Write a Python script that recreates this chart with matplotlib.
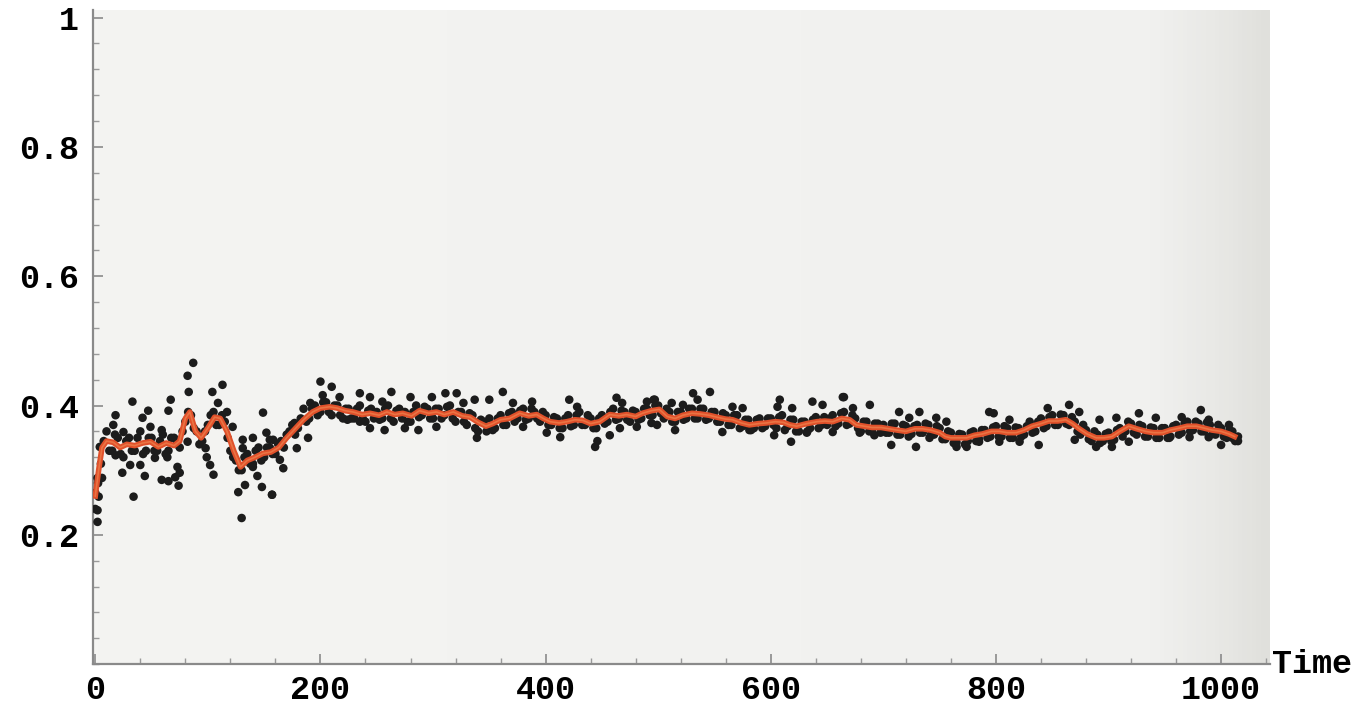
import numpy as np
import matplotlib
matplotlib.use("Agg")
import matplotlib.pyplot as plt
from matplotlib.ticker import MultipleLocator
from matplotlib.colors import LinearSegmentedColormap

# ---- data ----
# smoothed (red) curve
line_t = [0, 3, 6, 10, 16, 22, 28, 35, 42, 49, 56, 63, 70, 75, 80, 84, 89, 94, 100, 106,
          111, 117, 123, 129, 135, 142, 149, 156, 163, 170, 178, 185, 193, 200, 208, 215,
          222, 229, 237, 244, 252, 259, 266, 273, 281, 288, 296, 303, 310, 318, 326, 333,
          340, 347, 353, 360, 368, 377, 385, 392, 398, 404, 412, 419, 426, 433, 440, 448,
          457, 465, 472, 480, 486, 494, 501, 508, 515, 522, 530, 537, 545, 552, 560, 566,
          574, 581, 589, 596, 604, 611, 617, 623, 632, 641, 648, 655, 663, 670, 676, 683,
          690, 698, 705, 712, 720, 728, 735, 742, 750, 755, 760, 767, 774, 781, 788, 796,
          803, 810, 818, 825, 832, 840, 847, 855, 862, 868, 874, 881, 889, 896, 903, 910,
          918, 925, 933, 940, 948, 955, 963, 970, 978, 985, 992, 1000, 1007, 1012]
line_v = [0.26, 0.30, 0.335, 0.345, 0.343, 0.335, 0.34, 0.338, 0.342, 0.344, 0.336, 0.342,
          0.338, 0.345, 0.38, 0.39, 0.36, 0.35, 0.365, 0.382, 0.38, 0.36, 0.33, 0.305, 0.315,
          0.32, 0.326, 0.328, 0.335, 0.35, 0.365, 0.378, 0.39, 0.396, 0.398, 0.396, 0.392,
          0.39, 0.386, 0.388, 0.385, 0.39, 0.386, 0.388, 0.384, 0.392, 0.388, 0.39, 0.386,
          0.39, 0.384, 0.382, 0.374, 0.368, 0.372, 0.378, 0.38, 0.388, 0.384, 0.386, 0.38,
          0.375, 0.373, 0.375, 0.378, 0.377, 0.372, 0.375, 0.386, 0.384, 0.386, 0.383, 0.388,
          0.392, 0.394, 0.383, 0.38, 0.385, 0.388, 0.387, 0.385, 0.382, 0.379, 0.378, 0.373,
          0.37, 0.372, 0.373, 0.375, 0.374, 0.37, 0.368, 0.372, 0.375, 0.376, 0.375, 0.38,
          0.378, 0.37, 0.368, 0.366, 0.366, 0.364, 0.362, 0.36, 0.364, 0.364, 0.362, 0.358,
          0.352, 0.35, 0.35, 0.35, 0.354, 0.356, 0.36, 0.36, 0.358, 0.358, 0.362, 0.368,
          0.372, 0.376, 0.376, 0.378, 0.372, 0.364, 0.356, 0.35, 0.35, 0.352, 0.36, 0.368,
          0.364, 0.36, 0.358, 0.358, 0.362, 0.365, 0.368, 0.368, 0.365, 0.362, 0.36, 0.356,
          0.352]

# dense band of dots, times 0, 5, 10, ... 1015
band_a_start, band_a_step = 0, 5
band_a_v = [0.24, 0.31, 0.36, 0.33, 0.35, 0.32, 0.35, 0.33, 0.36, 0.33,
            0.35, 0.33, 0.355, 0.33, 0.35, 0.335, 0.375, 0.385, 0.36, 0.345,
            0.37, 0.39, 0.37, 0.375, 0.33, 0.315, 0.30, 0.325, 0.31, 0.335,
            0.32, 0.335, 0.325, 0.345, 0.355, 0.37, 0.365, 0.395, 0.38, 0.40,
            0.39, 0.405, 0.385, 0.40, 0.38, 0.395, 0.38, 0.40, 0.375, 0.395,
            0.39, 0.38, 0.40, 0.375, 0.395, 0.39, 0.375, 0.40, 0.385, 0.395,
            0.38, 0.395, 0.385, 0.40, 0.375, 0.39, 0.37, 0.385, 0.36, 0.375,
            0.38, 0.365, 0.385, 0.37, 0.39, 0.38, 0.395, 0.38, 0.39, 0.375,
            0.385, 0.37, 0.38, 0.365, 0.385, 0.37, 0.39, 0.37, 0.38, 0.365,
            0.385, 0.375, 0.395, 0.38, 0.39, 0.375, 0.39, 0.38, 0.395, 0.385,
            0.40, 0.38, 0.39, 0.375, 0.39, 0.38, 0.395, 0.38, 0.395, 0.38,
            0.39, 0.375, 0.385, 0.37, 0.385, 0.368, 0.378, 0.365, 0.38, 0.368,
            0.38, 0.365, 0.385, 0.368, 0.378, 0.36, 0.375, 0.365, 0.382, 0.37,
            0.37, 0.385, 0.372, 0.39, 0.372, 0.38, 0.36, 0.375, 0.36, 0.372,
            0.37, 0.358, 0.372, 0.355, 0.368, 0.356, 0.37, 0.358, 0.37, 0.355,
            0.365, 0.348, 0.358, 0.343, 0.355, 0.345, 0.36, 0.348, 0.362, 0.352,
            0.368, 0.352, 0.365, 0.35, 0.365, 0.355, 0.37, 0.36, 0.38, 0.368,
            0.385, 0.37, 0.385, 0.37, 0.375, 0.355, 0.362, 0.345, 0.355, 0.345,
            0.358, 0.347, 0.365, 0.36, 0.372, 0.355, 0.368, 0.352, 0.365, 0.35,
            0.365, 0.352, 0.37, 0.358, 0.375, 0.362, 0.372, 0.36, 0.37, 0.355,
            0.365, 0.35, 0.36, 0.345]

# second band of dots, times 2.5, 7.5, ... 1012.5
band_b_start, band_b_step = 2.5, 5
band_b_v = [0.28, 0.345, 0.33, 0.355, 0.325, 0.345, 0.33, 0.35, 0.325, 0.35,
            0.33, 0.345, 0.325, 0.35, 0.34, 0.36, 0.39, 0.365, 0.34, 0.36,
            0.385, 0.37, 0.385, 0.35, 0.32, 0.30, 0.32, 0.31, 0.33, 0.315,
            0.335, 0.325, 0.34, 0.335, 0.36, 0.355, 0.38, 0.375, 0.395, 0.385,
            0.405, 0.39, 0.40, 0.385, 0.395, 0.38, 0.395, 0.38, 0.392, 0.38,
            0.378, 0.395, 0.38, 0.392, 0.38, 0.375, 0.39, 0.382, 0.398, 0.38,
            0.395, 0.38, 0.398, 0.38, 0.39, 0.375, 0.388, 0.365, 0.378, 0.36,
            0.365, 0.38, 0.37, 0.388, 0.375, 0.392, 0.378, 0.395, 0.38, 0.39,
            0.37, 0.382, 0.365, 0.38, 0.368, 0.385, 0.37, 0.385, 0.365, 0.38,
            0.372, 0.39, 0.378, 0.392, 0.378, 0.392, 0.378, 0.395, 0.385, 0.40,
            0.388, 0.395, 0.375, 0.39, 0.378, 0.395, 0.38, 0.395, 0.378, 0.39,
            0.375, 0.388, 0.37, 0.385, 0.365, 0.378, 0.362, 0.378, 0.365, 0.38,
            0.37, 0.382, 0.362, 0.378, 0.36, 0.375, 0.36, 0.378, 0.365, 0.382,
            0.38, 0.368, 0.388, 0.37, 0.385, 0.365, 0.375, 0.36, 0.372, 0.358,
            0.358, 0.372, 0.355, 0.37, 0.352, 0.368, 0.358, 0.372, 0.356, 0.368,
            0.348, 0.36, 0.342, 0.356, 0.34, 0.358, 0.345, 0.362, 0.35, 0.366,
            0.352, 0.368, 0.35, 0.366, 0.352, 0.368, 0.358, 0.375, 0.365, 0.382,
            0.37, 0.386, 0.372, 0.382, 0.36, 0.37, 0.348, 0.36, 0.342, 0.356,
            0.345, 0.362, 0.352, 0.375, 0.358, 0.37, 0.352, 0.366, 0.35, 0.365,
            0.35, 0.368, 0.355, 0.372, 0.36, 0.375, 0.36, 0.374, 0.356, 0.37,
            0.352, 0.362, 0.345]

# scattered outlying dots
out_t = [87, 82, 83, 113, 104, 33, 67, 18, 47, 65, 42, 16, 149, 117, 109, 122, 152, 59,
         25, 49, 82, 131, 140, 155, 131, 98, 99, 18, 64, 53, 102, 31, 40, 73, 24, 44, 75,
         140, 144, 59, 65, 71, 105, 74, 133, 127, 148, 157, 34, 130, 2, 6, 0, 3, 2, 2, 4,
         200, 210, 202, 217, 235, 244, 263, 255, 280, 299, 311, 321, 327, 224, 235, 244,
         257, 275, 287, 303, 191, 177, 189, 179, 167, 157, 164, 158,
         362, 337, 350, 371, 388, 421, 428, 463, 468, 490, 496, 339, 353, 380, 401, 413,
         444, 446, 457, 466, 481, 494,
         531, 546, 535, 497, 512, 522, 566, 575, 608, 606, 619, 637, 646, 664, 557, 603,
         618, 515, 499, 581, 632, 655,
         665, 688, 673, 714, 732, 723, 747, 756, 794, 798, 812, 830, 707, 729, 692, 679,
         765, 774, 785, 803, 821, 741,
         846, 865, 874, 892, 907, 927, 942, 965, 982, 989, 1007, 1010, 1000, 838, 870,
         889, 903, 918, 954, 972, 989, 1015]
out_v = [0.466, 0.446, 0.421, 0.432, 0.421, 0.406, 0.409, 0.385, 0.392, 0.392, 0.381,
         0.370, 0.389, 0.390, 0.404, 0.367, 0.358, 0.362, 0.359, 0.367, 0.344, 0.347, 0.35,
         0.347, 0.334, 0.334, 0.320, 0.323, 0.320, 0.319, 0.308, 0.308, 0.308, 0.305, 0.296,
         0.291, 0.296, 0.305, 0.291, 0.285, 0.283, 0.289, 0.293, 0.276, 0.277, 0.266, 0.274,
         0.262, 0.259, 0.226, 0.288, 0.288, 0.265, 0.259, 0.238, 0.220, 0.336,
         0.437, 0.429, 0.416, 0.413, 0.419, 0.413, 0.421, 0.406, 0.413, 0.413, 0.419, 0.419,
         0.404, 0.378, 0.375, 0.365, 0.362, 0.365, 0.362, 0.367, 0.404, 0.373, 0.35, 0.334,
         0.303, 0.262, 0.316, 0.347,
         0.421, 0.409, 0.409, 0.404, 0.406, 0.409, 0.398, 0.412, 0.404, 0.406, 0.409, 0.35,
         0.362, 0.367, 0.358, 0.351, 0.336, 0.345, 0.354, 0.365, 0.367, 0.373,
         0.419, 0.421, 0.409, 0.409, 0.404, 0.401, 0.398, 0.396, 0.409, 0.398, 0.396, 0.406,
         0.401, 0.413, 0.359, 0.354, 0.344, 0.362, 0.37, 0.362, 0.358, 0.359,
         0.413, 0.401, 0.396, 0.39, 0.39, 0.381, 0.381, 0.375, 0.39, 0.388, 0.378, 0.375,
         0.339, 0.336, 0.354, 0.358, 0.336, 0.336, 0.344, 0.344, 0.344, 0.35,
         0.396, 0.401, 0.39, 0.378, 0.381, 0.388, 0.381, 0.382, 0.393, 0.378, 0.37, 0.35,
         0.339, 0.339, 0.347, 0.336, 0.336, 0.344, 0.35, 0.351, 0.351, 0.352]

x_ticks = [0, 200, 400, 600, 800, 1000]
x_ticklabels = ["0", "200", "400", "600", "800", "1000"]
y_ticks = [0.2, 0.4, 0.6, 0.8, 1.0]
y_ticklabels = ["0.2", "0.4", "0.6", "0.8", "1"]
x_label = "Time"

# ---- figure ----
band_a_t = band_a_start + band_a_step * np.arange(len(band_a_v))
band_b_t = band_b_start + band_b_step * np.arange(len(band_b_v))
dots_t = np.concatenate([band_a_t, band_b_t, out_t])
dots_v = np.concatenate([band_a_v, band_b_v, out_v])

fig = plt.figure(figsize=(13.68, 7.05), dpi=100)
fig.patch.set_facecolor("white")
ax = fig.add_axes([0.068, 0.058, 0.86, 0.928])
ax.set_facecolor("#f4f4f2")

# paper shading: slightly darker towards the right edge
paper = LinearSegmentedColormap.from_list(
    "paper", [(0, "#f4f4f2"), (0.9, "#f1f1ef"), (0.96, "#e8e8e5"), (1, "#e0e0dc")])
ax.imshow(np.linspace(0, 1, 256)[None, :], cmap=paper, aspect="auto",
          extent=(0, 1, 0, 1), transform=ax.transAxes, zorder=0)

ax.scatter(dots_t, dots_v, s=38, color="#1c1c1c", edgecolors="none", zorder=3)
ax.plot(line_t, line_v, color="#e0502a", lw=4.0, zorder=4, solid_joinstyle="round")
ax.plot(line_t, line_v, color="#f2925a", lw=1.2, zorder=5, alpha=0.55)

ax.set_xlim(-2, 1043)
ax.set_ylim(0, 1.012)

for s in ["top", "right"]:
    ax.spines[s].set_visible(False)
for s in ["left", "bottom"]:
    ax.spines[s].set_color("#8a8a8a")
    ax.spines[s].set_linewidth(1.6)

font = dict(family="Liberation Mono", weight="bold", size=24)
ax.set_xticks(x_ticks)
ax.set_xticklabels(x_ticklabels, fontdict=font)
ax.set_yticks(y_ticks)
ax.set_yticklabels(y_ticklabels, fontdict=font)
ax.xaxis.set_minor_locator(MultipleLocator(40))
ax.yaxis.set_minor_locator(MultipleLocator(0.04))
ax.tick_params(axis="both", which="major", direction="in", length=7, width=1.2,
               color="#8a8a8a")
ax.tick_params(axis="both", which="minor", direction="in", length=4, width=1.0,
               color="#9a9a9a")
ax.tick_params(axis="x", pad=8)
ax.tick_params(axis="y", pad=10)

ax.annotate(x_label, xy=(1.0, 0.0), xycoords="axes fraction", xytext=(2, 0),
            textcoords="offset points", ha="left", va="center", **font)

fig.savefig("out.png", dpi=100, facecolor="white")
